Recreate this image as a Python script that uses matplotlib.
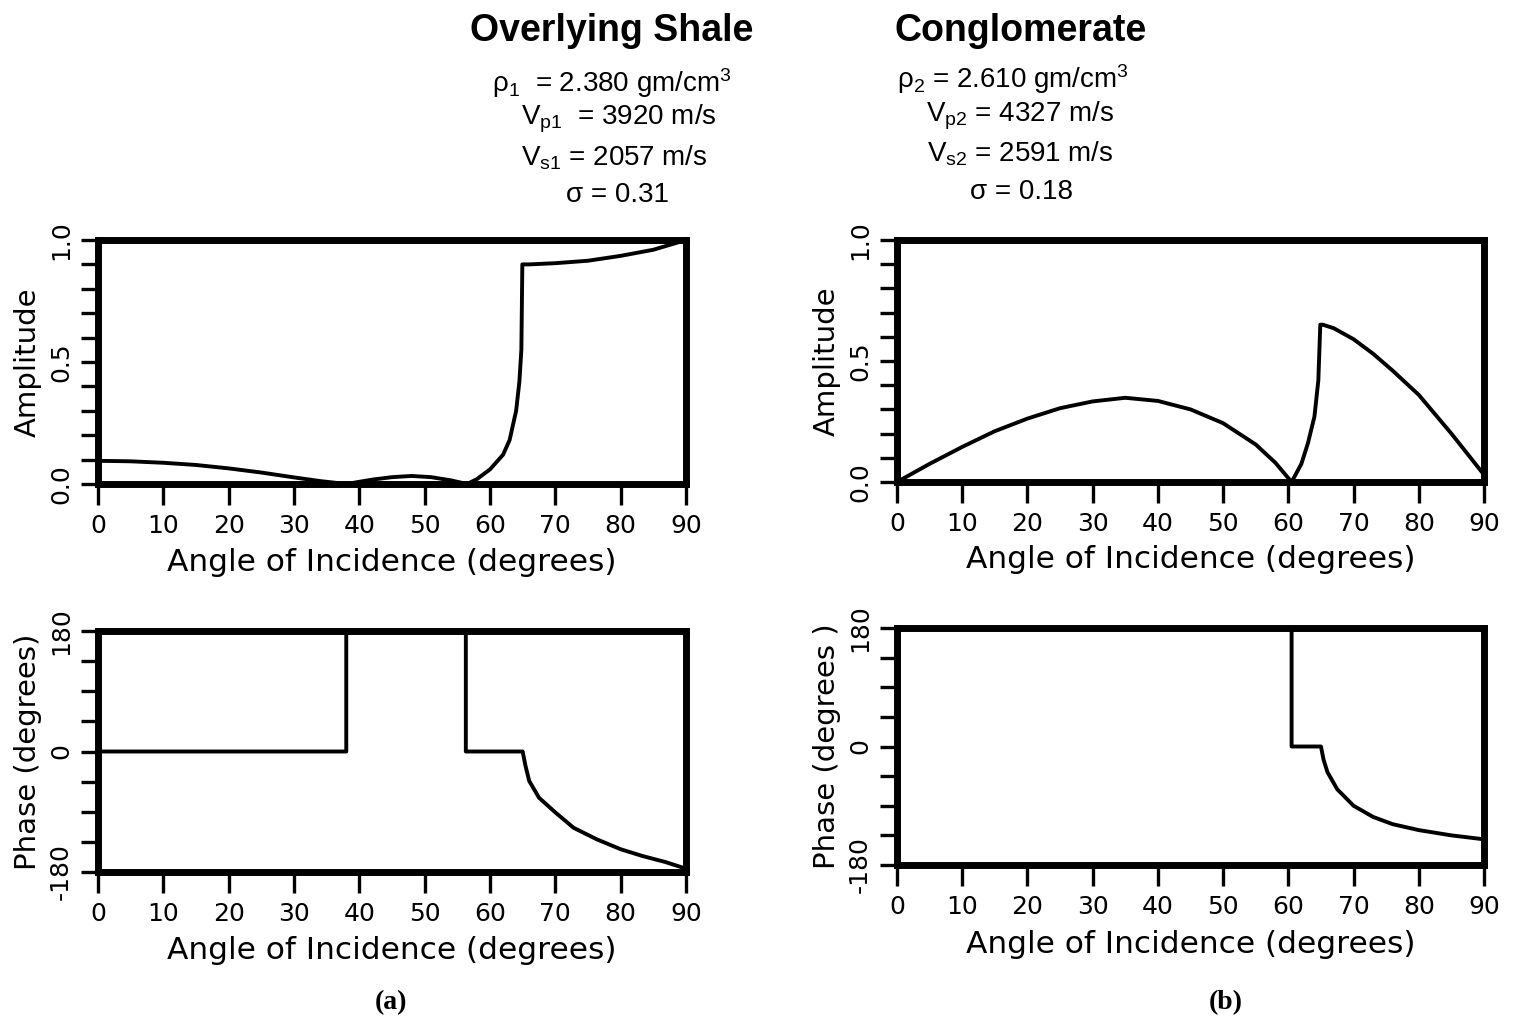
import numpy as np
import matplotlib
matplotlib.use("Agg")
import matplotlib.pyplot as plt

# ---------------- data ----------------
x_ticks = [0, 10, 20, 30, 40, 50, 60, 70, 80, 90]

# (a) Overlying shale -> amplitude
ang_a_amp = [0, 5, 10, 15, 20, 25, 30, 34, 38, 42, 45, 48, 51, 54, 56.5,
             58, 60, 62, 63, 64, 64.5, 64.8, 64.95, 66, 70, 75, 80, 85, 90]
amp_a = [0.095, 0.093, 0.087, 0.078, 0.064, 0.047, 0.027, 0.012, 0.0, 0.018,
         0.028, 0.033, 0.028, 0.015, 0.0,
         0.02, 0.06, 0.12, 0.18, 0.3, 0.42, 0.55, 0.9, 0.9, 0.905, 0.915,
         0.935, 0.96, 1.0]

# (a) phase
ang_a_ph = [0, 38, 38, 56.3, 56.3, 65, 65.4, 66, 67.5, 70, 72.8, 76.3, 80,
            83.3, 86.8, 90]
phase_a = [0, 0, 180, 180, 0, 0, -20, -44, -69, -91, -114, -131, -146,
           -156, -165, -175]

# (b) Conglomerate -> amplitude
ang_b_amp = [0, 5, 10, 15, 20, 25, 30, 35, 40, 45, 50, 55, 58, 60.5, 62, 63,
             64, 64.6, 64.9, 65.3, 67, 70, 73, 76, 80, 85, 90]
amp_b = [0.0, 0.075, 0.145, 0.21, 0.262, 0.305, 0.333, 0.348, 0.335, 0.3,
         0.243, 0.155, 0.08, 0.0, 0.075, 0.16, 0.27, 0.42, 0.65, 0.65, 0.635,
         0.59, 0.53, 0.46, 0.36, 0.2, 0.03]

# (b) phase
ang_b_ph = [0, 60.5, 60.5, 65, 65.4, 66, 67.5, 70, 73, 76, 80, 85, 90]
phase_b = [180, 180, 0, 0, -20, -39, -65, -90, -107, -118, -127, -135, -141]

amp_ticks = [0.0, 0.1, 0.2, 0.3, 0.4, 0.5, 0.6, 0.7, 0.8, 0.9, 1.0]
amp_labels = ["0.0", "", "", "", "", "0.5", "", "", "", "", "1.0"]
ph_ticks = [-180, -135, -90, -45, 0, 45, 90, 135, 180]
ph_labels = ["-180", "", "", "", "0", "", "", "", "180"]

W, H = 1514, 1018
plt.rcParams["mathtext.fontset"] = "custom"
plt.rcParams["mathtext.rm"] = "Liberation Sans"
plt.rcParams["mathtext.it"] = "Liberation Sans:italic"
plt.rcParams["mathtext.bf"] = "Liberation Sans:bold"

fig = plt.figure(figsize=(W / 100, H / 100), dpi=100)


def px_axes(l, t, r, b):
    return fig.add_axes([l / W, 1 - b / H, (r - l) / W, (b - t) / H])


TICK_FS = 18
XLAB_FS = 22.5
YLAB_FS = 21


def style(ax, yticks, ylabels, ylim, ylabel, xlabel_y):
    ax.set_xlim(0, 90)
    ax.set_ylim(*ylim)
    ax.set_xticks(x_ticks)
    ax.set_xticklabels([str(v) for v in x_ticks], fontsize=TICK_FS)
    ax.set_yticks(yticks)
    ax.set_yticklabels(ylabels, fontsize=TICK_FS, rotation=90, va="center")
    for s in ax.spines.values():
        s.set_linewidth(5)
        s.set_color("black")
    ax.tick_params(direction="out", width=2.4, color="black",
                   top=False, right=False)
    ax.tick_params(axis="y", length=12, pad=6)
    ax.tick_params(axis="x", length=15, pad=6.5)
    ax.set_ylabel(ylabel, fontsize=YLAB_FS)
    ax.set_xlabel("Angle of Incidence (degrees)", fontsize=XLAB_FS)
    ax.yaxis.set_label_coords(-0.096, 0.5)
    ax.xaxis.set_label_coords(0.5, xlabel_y)


LW = 2.8

ax1 = px_axes(98, 240, 686, 484)
ax1.plot(ang_a_amp, amp_a, color="black", lw=LW)
style(ax1, amp_ticks, amp_labels, (0, 1), "Amplitude", -0.262)

ax2 = px_axes(897, 240, 1484, 482)
ax2.plot(ang_b_amp, amp_b, color="black", lw=LW)
style(ax2, amp_ticks, amp_labels, (0, 1), "Amplitude", -0.262)

ax3 = px_axes(98, 631, 686, 872)
ax3.plot(ang_a_ph, phase_a, color="black", lw=LW)
style(ax3, ph_ticks, ph_labels, (-180, 180), "Phase (degrees)", -0.266)

ax4 = px_axes(897, 628, 1484, 865)
ax4.plot(ang_b_ph, phase_b, color="black", lw=LW)
style(ax4, ph_ticks, ph_labels, (-180, 180), "Phase (degrees )", -0.274)


# ---------------- header texts ----------------
def ftext(x, y, s, va="baseline", **kw):
    fig.text(x / W, 1 - y / H, s, ha="center", va=va, **kw)


HF = 27
ftext(612, 41, "Overlying Shale", fontsize=HF, fontweight="bold",
      family="Liberation Sans")
ftext(1021, 41, "Conglomerate", fontsize=HF, fontweight="bold",
      family="Liberation Sans")

PF = 20
ftext(612, 92, r"ρ$_1$  = 2.380 gm/cm$^3$", fontsize=PF, family="Liberation Sans")
ftext(619, 125, r"V$_{\mathrm{p1}}$  = 3920 m/s", fontsize=PF, family="Liberation Sans")
ftext(614, 166, r"V$_{\mathrm{s1}}$ = 2057 m/s", fontsize=PF, family="Liberation Sans")
ftext(617, 202, "σ = 0.31", fontsize=PF, family="Liberation Sans")

ftext(1013, 88, r"ρ$_2$ = 2.610 gm/cm$^3$", fontsize=PF, family="Liberation Sans")
ftext(1020, 121, r"V$_{\mathrm{p2}}$ = 4327 m/s", fontsize=PF, family="Liberation Sans")
ftext(1020, 162, r"V$_{\mathrm{s2}}$ = 2591 m/s", fontsize=PF, family="Liberation Sans")
ftext(1022, 199, "σ = 0.18", fontsize=PF, family="Liberation Sans")

ftext(391, 1003, "(a)", va="center", fontsize=20, fontweight="bold",
      family="Liberation Serif")
ftext(1226, 1003, "(b)", va="center", fontsize=20, fontweight="bold",
      family="Liberation Serif")

fig.savefig("out.png", dpi=100, facecolor="white")
